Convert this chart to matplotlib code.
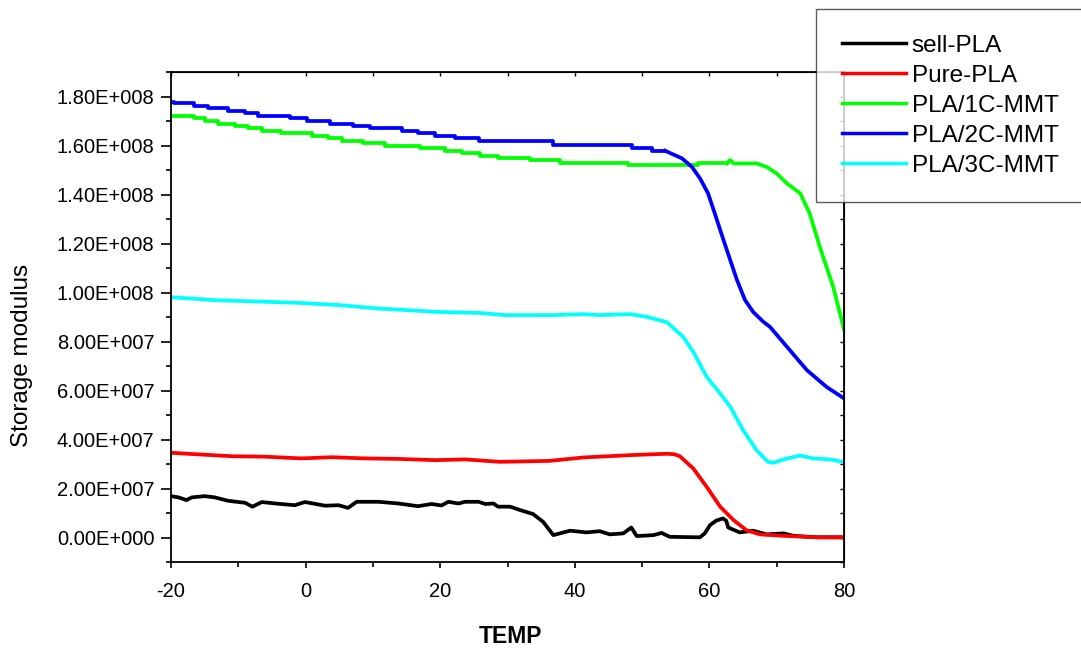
import numpy as np
import matplotlib
matplotlib.use('Agg')
import matplotlib.pyplot as plt
from matplotlib.ticker import MultipleLocator, FuncFormatter

plt.rcParams['font.family'] = ['Liberation Sans', 'DejaVu Sans']
plt.rcParams['axes.unicode_minus'] = False

# values in units of 1e7 Pa, temperature in deg C
SCALE = 1e7

sell_T = [-20, -18.9, -17.7, -16.9, -15, -13.5, -11.5, -9, -7.9, -6.5,
          -4.5, -1.6, -0.1, 2.9, 4.9, 6.3, 7.6, 10.8, 13.8, 16.7,
          18.7, 20.2, 21.2, 22.7, 23.7, 25.7, 26.7, 27.9, 28.6, 30.4,
          31.9, 33.8, 35.3, 36.8, 39.3, 41.7, 43.7, 45.2, 47.2, 48.4,
          49.2, 51.7, 52.9, 54.1, 58.6, 59.3, 60.1, 61.0, 62.0, 62.5,
          62.8, 64.5, 66.5, 68.5, 71, 72.5, 76, 80]
sell_E = [1.70, 1.65, 1.54, 1.65, 1.70, 1.65, 1.51, 1.43, 1.27, 1.46,
          1.40, 1.33, 1.46, 1.31, 1.33, 1.22, 1.47, 1.47, 1.40, 1.29,
          1.38, 1.32, 1.47, 1.40, 1.47, 1.47, 1.38, 1.40, 1.27, 1.27,
          1.13, 0.97, 0.65, 0.11, 0.29, 0.22, 0.27, 0.14, 0.18, 0.42,
          0.07, 0.11, 0.20, 0.04, 0.02, 0.18, 0.52, 0.70, 0.79, 0.70,
          0.42, 0.22, 0.29, 0.14, 0.18, 0.08, 0.02, 0.02]

pure_T = [-20, -16.9, -11, -6, -0.6, 3.9, 8.8, 13.8, 19.2, 23.7,
          28.9, 36.3, 41.3, 48.7, 53.7, 54.8, 55.6, 57.6, 59.6, 61.6,
          63.6, 65.5, 67.5, 71, 76, 80]
pure_E = [3.47, 3.42, 3.33, 3.31, 3.24, 3.29, 3.24, 3.22, 3.17, 3.20,
          3.10, 3.14, 3.28, 3.38, 3.43, 3.41, 3.33, 2.83, 2.08, 1.27,
          0.72, 0.31, 0.14, 0.08, 0.02, 0.02]

# 1C-MMT: stepped plateau, then the drop
c1_step_T = [-20, -16.6, -15.0, -13.0, -10.5, -8.5, -6.5, -3.6, 0.9, 3.4,
             5.4, 8.6, 11.8, 17.0, 20.7, 23.2, 25.9, 28.6, 33.3, 37.8,
             47.9, 58.3, 62.6]
c1_step_E = [17.22, 17.12, 17.02, 16.91, 16.82, 16.71, 16.61, 16.51, 16.41, 16.30,
             16.20, 16.10, 16.00, 15.89, 15.80, 15.69, 15.59, 15.50, 15.42, 15.31,
             15.20, 15.28, 15.28]
c1_T = [62.6, 63.1, 63.6, 67.0, 68.5, 70.0, 71.5, 73.5, 74.9, 76.4, 78.4, 80]
c1_E = [15.28, 15.42, 15.28, 15.28, 15.14, 14.87, 14.47, 14.06, 13.24, 11.88, 10.24, 8.50]

# 2C-MMT
c2_step_T = [-20, -19.5, -16.6, -14.5, -11.5, -9.0, -7.0, -2.3, 0.2, 3.6,
             7.1, 9.6, 14.3, 16.7, 19.2, 22.2, 25.7, 36.8, 48.5, 51.4, 53.4]
c2_step_E = [17.80, 17.73, 17.63, 17.53, 17.43, 17.32, 17.22, 17.12, 17.02, 16.91,
             16.82, 16.71, 16.61, 16.51, 16.41, 16.30, 16.20, 16.02, 15.92, 15.80, 15.80]
c2_T = [53.4, 54.6, 55.9, 57.4, 58.6, 59.8, 60.8, 62.1, 63.1, 64.1,
        65.3, 66.5, 68.0, 69.0, 71.2, 73.0, 74.5, 77.4, 80]
c2_E = [15.80, 15.65, 15.49, 15.14, 14.67, 14.06, 13.24, 12.15, 11.33, 10.52,
        9.70, 9.22, 8.82, 8.61, 7.90, 7.32, 6.84, 6.16, 5.69]

c3_T = [-20, -13.5, -1.1, 4.9, 10.8, 19.7, 25.7, 29.6, 36.8, 41.2,
        43.7, 48.2, 50.7, 53.7, 56.1, 57.6, 59.6, 61.6, 63.1, 65.0,
        67.0, 68.7, 69.5, 71.0, 73.5, 75.4, 77.9, 80]
c3_E = [9.82, 9.70, 9.59, 9.50, 9.36, 9.22, 9.18, 9.09, 9.09, 9.13,
        9.09, 9.13, 9.02, 8.80, 8.20, 7.59, 6.57, 5.89, 5.35, 4.40,
        3.58, 3.10, 3.06, 3.20, 3.36, 3.24, 3.20, 3.09]

labels = ['sell-PLA', 'Pure-PLA', 'PLA/1C-MMT', 'PLA/2C-MMT', 'PLA/3C-MMT']
colors = ['#000000', '#ff0000', '#00ff00', '#0000ff', '#00ffff']


def sci_fmt(v, pos):
    if abs(v) < 1e-6:
        return '0.00E+000'
    exp = int(np.floor(np.log10(abs(v))))
    return '%.2fE+%03d' % (v / 10 ** exp, exp)


fig = plt.figure(figsize=(10.81, 6.48), dpi=100)
ax = fig.add_axes([171 / 1081, 1 - 562.3 / 648, 673 / 1081, 490 / 648])

lw = 2.7
sc = lambda a: np.array(a) * SCALE
h0, = ax.plot(sell_T, sc(sell_E), color=colors[0], lw=lw)
h1, = ax.plot(pure_T, sc(pure_E), color=colors[1], lw=lw)
h2, = ax.plot(c1_step_T, sc(c1_step_E), color=colors[2], lw=lw, drawstyle='steps-post')
ax.plot(c1_T, sc(c1_E), color=colors[2], lw=lw)
h3, = ax.plot(c2_step_T, sc(c2_step_E), color=colors[3], lw=lw, drawstyle='steps-post')
ax.plot(c2_T, sc(c2_E), color=colors[3], lw=lw)
h4, = ax.plot(c3_T, sc(c3_E), color=colors[4], lw=lw)

ax.set_xlim(-20, 80)
ax.set_ylim(-1e7, 1.9e8)
ax.xaxis.set_major_locator(MultipleLocator(20))
ax.xaxis.set_minor_locator(MultipleLocator(10))
ax.yaxis.set_major_locator(MultipleLocator(2e7))
ax.yaxis.set_minor_locator(MultipleLocator(1e7))
ax.yaxis.set_major_formatter(FuncFormatter(sci_fmt))

for s in ax.spines.values():
    s.set_linewidth(1.3)
ax.tick_params(axis='both', which='both', direction='out', width=1.2, labelsize=14.5)
ax.tick_params(axis='y', which='major', length=7, pad=5)
ax.tick_params(axis='y', which='minor', length=3.5)
ax.tick_params(axis='x', which='major', length=4.5, pad=10)
ax.tick_params(axis='x', which='minor', length=3.5)

rax = ax.secondary_yaxis('right')
rax.yaxis.set_major_locator(MultipleLocator(2e7))
rax.yaxis.set_minor_locator(MultipleLocator(1e7))
rax.tick_params(which='both', direction='in', length=3, width=1, labelright=False)
tax = ax.secondary_xaxis('top')
tax.xaxis.set_major_locator(MultipleLocator(20))
tax.xaxis.set_minor_locator(MultipleLocator(10))
tax.tick_params(which='both', direction='in', length=3, width=1, labeltop=False)

fig.text(22 / 1081, 1 - 355 / 648, 'Storage modulus', rotation=90,
         ha='center', va='center', fontsize=17.5)
fig.text(510.5 / 1081, 1 - 636.5 / 648, 'TEMP', ha='center', va='center',
         fontsize=16.5, fontweight='bold')

leg = fig.legend([h0, h1, h2, h3, h4], labels, loc='upper left',
                 bbox_to_anchor=(816 / 1081, 1 - 199 / 648, 300 / 1081, 190 / 648),
                 mode='expand', borderaxespad=0, fontsize=17.5, frameon=True,
                 fancybox=False, handlelength=2.66, handletextpad=0.23,
                 labelspacing=0.33, borderpad=1.05)
leg.get_frame().set_edgecolor('#333333')
leg.get_frame().set_linewidth(1.0)
for l in leg.get_lines():
    l.set_linewidth(2.5)

fig.savefig('out.png', dpi=100)
